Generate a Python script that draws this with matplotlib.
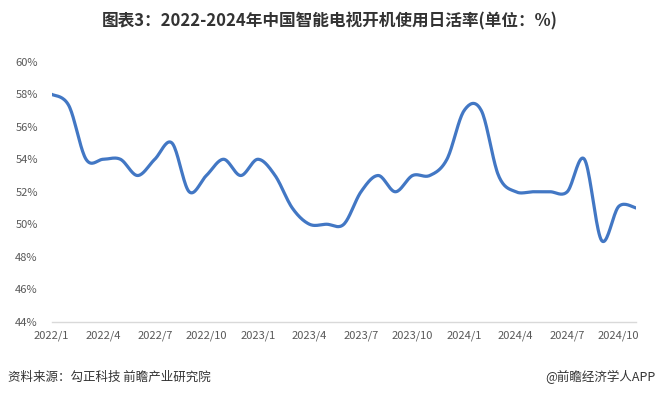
import numpy as np
import matplotlib
matplotlib.use("Agg")
import matplotlib.pyplot as plt

plt.rcParams['font.family'] = ['Noto Sans CJK SC', 'DejaVu Sans']

months = [f"{y}/{m}" for y in (2022, 2023, 2024) for m in range(1, 13)][:35]
values = [58.0, 57.3, 54.0, 54.0, 54.0, 53.0, 54.0, 55.0, 52.0, 53.0,
          54.0, 53.0, 54.0, 53.0, 51.0, 50.0, 50.0, 50.0, 52.0, 53.0,
          52.0, 53.0, 53.0, 54.0, 57.0, 57.0, 53.0, 52.0, 52.0, 52.0,
          52.0, 54.0, 49.0, 51.1, 51.0]
tick_labels = months[::3]
yticks = [44, 46, 48, 50, 52, 54, 56, 58, 60]

title = "图表3：2022-2024年中国智能电视开机使用日活率(单位：%)"
source = "资料来源：勾正科技 前瞻产业研究院"
brand = "@前瞻经济学人APP"


def smooth(y, n=20):
    # Bezier smoothing through the points (like Excel's smoothed line)
    y = np.asarray(y, float)
    x = np.arange(len(y), dtype=float)
    xs, ys = [], []
    for i in range(len(y) - 1):
        p0 = np.array([x[max(i - 1, 0)], y[max(i - 1, 0)]])
        p1 = np.array([x[i], y[i]])
        p2 = np.array([x[i + 1], y[i + 1]])
        p3 = np.array([x[min(i + 2, len(y) - 1)], y[min(i + 2, len(y) - 1)]])
        c1 = p1 + (p2 - p0) / 6
        c2 = p2 - (p3 - p1) / 6
        t = np.linspace(0, 1, n, endpoint=(i == len(y) - 2))[:, None]
        pts = ((1 - t) ** 3) * p1 + 3 * ((1 - t) ** 2) * t * c1 + 3 * (1 - t) * t ** 2 * c2 + t ** 3 * p2
        xs.append(pts[:, 0]); ys.append(pts[:, 1])
    return np.concatenate(xs), np.concatenate(ys)


fig = plt.figure(figsize=(6.6, 3.97), dpi=100)
ax = fig.add_axes([0.0783, 0.1897, 0.9636 - 0.0783, 0.8443 - 0.1897])

sx, sy = smooth(values)
ax.plot(sx, sy, color='#4277c4', lw=2.3, solid_capstyle='round', zorder=3)

ax.set_xlim(0, len(months) - 1)
ax.set_ylim(44, 60)
ax.set_yticks(yticks)
ax.set_yticklabels([f"{v}%" for v in yticks])
ax.set_xticks(range(0, len(months), 3))
ax.set_xticklabels(tick_labels)

for s in ('top', 'right', 'left'):
    ax.spines[s].set_visible(False)
ax.spines['bottom'].set_color('#d9d9d9')
ax.spines['bottom'].set_linewidth(1.0)
ax.tick_params(axis='both', length=0, labelsize=8, colors='#595959')
ax.tick_params(axis='y', pad=10)
ax.tick_params(axis='x', pad=6)

fig.text(0.5, 1 - 21 / 397, title, ha='center', va='center', fontsize=12,
         fontweight='bold', color='#333333')
fig.text(8 / 660, 1 - 377 / 397, source, ha='left', va='center', fontsize=9, color='#333333')
fig.text(655 / 660, 1 - 377 / 397, brand, ha='right', va='center', fontsize=9, color='#333333')

fig.savefig('out.png', dpi=100)
